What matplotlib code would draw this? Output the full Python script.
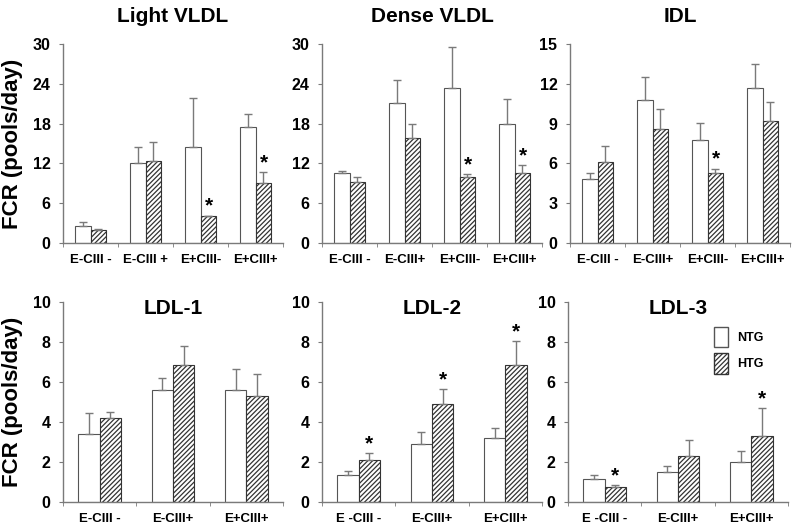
import matplotlib
matplotlib.use("Agg")
import matplotlib.pyplot as plt
from matplotlib.patches import Patch
import numpy as np

plt.rcParams['font.family'] = ['Liberation Sans', 'DejaVu Sans']
plt.rcParams['font.weight'] = 'bold'
plt.rcParams['hatch.color'] = '#2a2a2a'
plt.rcParams['hatch.linewidth'] = 0.9

# top row
top_cats = {
    "Light VLDL": ["E-CIII -", "E-CIII +", "E+CIII-", "E+CIII+"],
    "Dense VLDL": ["E-CIII -", "E-CIII+", "E+CIII-", "E+CIII+"],
    "IDL": ["E-CIII -", "E-CIII+", "E+CIII-", "E+CIII+"],
}
light_ntg = [2.6, 12.0, 14.4, 17.5]
light_ntg_err = [0.5, 2.4, 7.5, 2.0]
light_htg = [2.0, 12.3, 4.0, 9.0]
light_htg_err = [0.1, 3.0, 0.1, 1.7]
light_star = [False, False, True, True]

dense_ntg = [10.5, 21.1, 23.3, 18.0]
dense_ntg_err = [0.4, 3.5, 6.3, 3.7]
dense_htg = [9.2, 15.8, 10.0, 10.6]
dense_htg_err = [0.8, 2.2, 0.4, 1.1]
dense_star = [False, False, True, True]

idl_ntg = [4.8, 10.8, 7.75, 11.65]
idl_ntg_err = [0.5, 1.7, 1.3, 1.85]
idl_htg = [6.1, 8.6, 5.25, 9.2]
idl_htg_err = [1.2, 1.5, 0.35, 1.45]
idl_star = [False, False, True, False]

# bottom row
ldl1_cats = ["E-CIII -", "E-CIII+", "E+CIII+"]
ldl23_cats = ["E -CIII -", "E-CIII+", "E+CIII+"]
ldl1_ntg = [3.4, 5.6, 5.6]
ldl1_ntg_err = [1.05, 0.6, 1.05]
ldl1_htg = [4.2, 6.85, 5.3]
ldl1_htg_err = [0.3, 0.95, 1.1]
ldl1_star = [False, False, False]

ldl2_ntg = [1.35, 2.9, 3.2]
ldl2_ntg_err = [0.2, 0.6, 0.5]
ldl2_htg = [2.1, 4.9, 6.85]
ldl2_htg_err = [0.35, 0.75, 1.2]
ldl2_star = [True, True, True]

ldl3_ntg = [1.15, 1.5, 2.0]
ldl3_ntg_err = [0.18, 0.3, 0.55]
ldl3_htg = [0.77, 2.3, 3.3]
ldl3_htg_err = [0.08, 0.8, 1.4]
ldl3_star = [True, False, True]

gray = '#7a7a7a'
w = 0.29
hatch = '///////'


def panel(ax, title, cats, ntg, ntg_err, htg, htg_err, star, ymax, step, inside_title=False):
    x = np.arange(len(cats))
    ax.bar(x - w / 2, ntg, w, color='white', edgecolor='#555555', linewidth=0.8)
    ax.bar(x + w / 2, htg, w, color='white', edgecolor='#333333', linewidth=0.8, hatch=hatch)
    ax.errorbar(x - w / 2, ntg, yerr=[np.zeros(len(ntg)), ntg_err], fmt='none',
                ecolor=gray, elinewidth=1, capsize=3, capthick=1)
    ax.errorbar(x + w / 2, htg, yerr=[np.zeros(len(htg)), htg_err], fmt='none',
                ecolor=gray, elinewidth=1, capsize=3, capthick=1)
    for i, s in enumerate(star):
        if s:
            ax.annotate('*', (x[i] + w / 2, htg[i] + htg_err[i]), xytext=(0, 0),
                        textcoords='offset points', ha='center', va='bottom',
                        fontsize=15, fontweight='bold')
    ax.set_xlim(-0.5, len(cats) - 0.5)
    ax.set_ylim(0, ymax)
    ax.set_yticks(np.arange(0, ymax + 0.01, step))
    ax.set_xticks(x)
    ax.set_xticklabels(cats, fontsize=9.5, fontweight='bold')
    ax.set_xticks(np.arange(-0.5, len(cats) + 0.5, 1.0), minor=True)
    ax.tick_params(axis='x', which='major', length=0, pad=8)
    ax.tick_params(axis='x', which='minor', length=3, color=gray, direction='out')
    ax.tick_params(axis='y', length=3, color=gray, labelsize=11.5, pad=6)
    for lab in ax.get_yticklabels():
        lab.set_fontweight('bold')
    for sp in ['top', 'right']:
        ax.spines[sp].set_visible(False)
    for sp in ['left', 'bottom']:
        ax.spines[sp].set_color(gray)
        ax.spines[sp].set_linewidth(1)
    if inside_title:
        ax.set_title(title, fontsize=15, fontweight='bold', y=0.9)
    else:
        ax.set_title(title, fontsize=15, fontweight='bold', pad=16)


fig = plt.figure(figsize=(8, 5.28), dpi=100)
top_b = (528 - 243) / 528
bot_b = (528 - 502) / 528
h = 199 / 528
lefts = [63 / 800, 322 / 800, 570 / 800]
wid = 220 / 800

ax1 = fig.add_axes([lefts[0], top_b, wid, h])
panel(ax1, "Light VLDL", top_cats["Light VLDL"], light_ntg, light_ntg_err,
      light_htg, light_htg_err, light_star, 30, 6)
ax2 = fig.add_axes([lefts[1], top_b, wid, h])
panel(ax2, "Dense VLDL", top_cats["Dense VLDL"], dense_ntg, dense_ntg_err,
      dense_htg, dense_htg_err, dense_star, 30, 6)
ax3 = fig.add_axes([lefts[2], top_b, wid, h])
panel(ax3, "IDL", top_cats["IDL"], idl_ntg, idl_ntg_err,
      idl_htg, idl_htg_err, idl_star, 15, 3)

ax4 = fig.add_axes([lefts[0], bot_b, wid, 200 / 528])
panel(ax4, "LDL-1", ldl1_cats, ldl1_ntg, ldl1_ntg_err, ldl1_htg, ldl1_htg_err,
      ldl1_star, 10, 2, inside_title=True)
ax5 = fig.add_axes([lefts[1], bot_b, wid, 200 / 528])
panel(ax5, "LDL-2", ldl23_cats, ldl2_ntg, ldl2_ntg_err, ldl2_htg, ldl2_htg_err,
      ldl2_star, 10, 2, inside_title=True)
ax6 = fig.add_axes([568 / 800, bot_b, wid, 200 / 528])
panel(ax6, "LDL-3", ldl23_cats, ldl3_ntg, ldl3_ntg_err, ldl3_htg, ldl3_htg_err,
      ldl3_star, 10, 2, inside_title=True)

ax1.set_ylabel("FCR (pools/day)", fontsize=16, fontweight='bold', labelpad=7)
ax4.set_ylabel("FCR (pools/day)", fontsize=16, fontweight='bold', labelpad=7)

handles = [Patch(facecolor='white', edgecolor='#555555', label='NTG'),
           Patch(facecolor='white', edgecolor='#333333', hatch=hatch, label='HTG')]
ax6.legend(handles=handles, loc='upper left', bbox_to_anchor=(0.64, 0.9), frameon=False,
           borderaxespad=0, handlelength=1.1, handleheight=2.1,
           prop={'size': 9, 'weight': 'bold'}, labelspacing=0.5, handletextpad=0.8)

fig.savefig("out.png", dpi=100)
